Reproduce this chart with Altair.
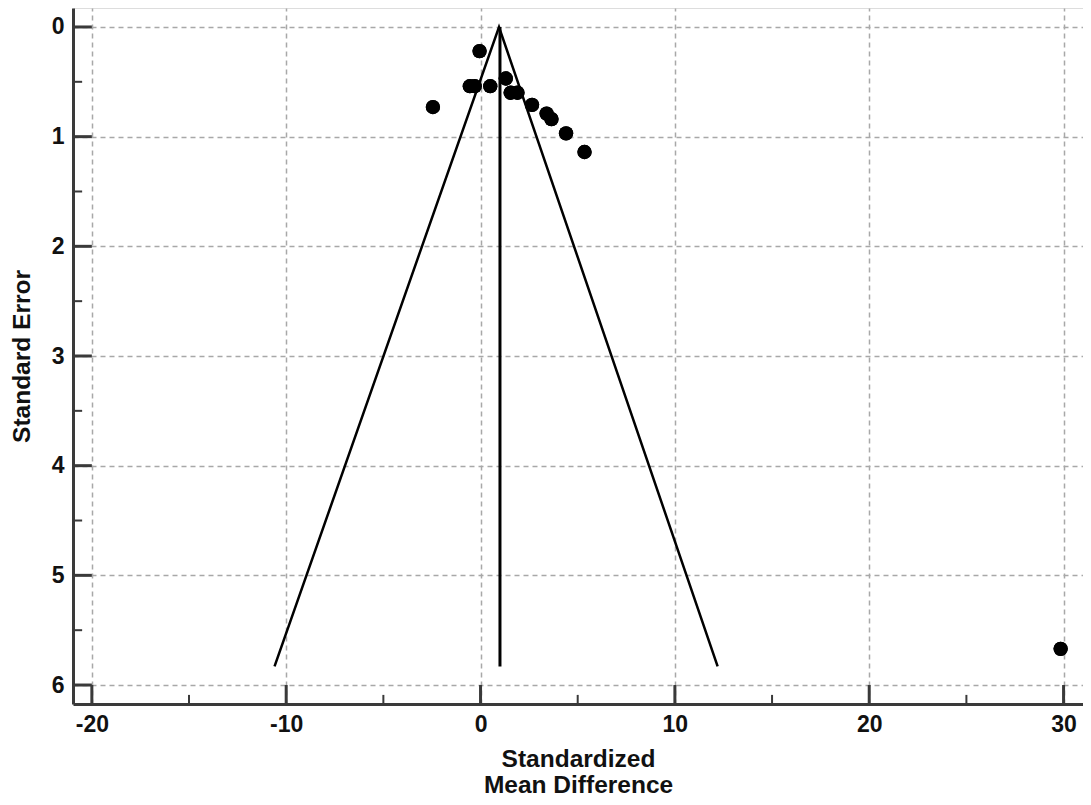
import altair as alt
import pandas as pd

# Study points (standardized mean difference, standard error)
smd = [-0.05, -0.55, -0.3, 0.5, 1.3, 1.55, 1.9, 2.65, 3.4, 3.65, 4.4, 5.35, -2.45, 29.85]
se = [0.22, 0.54, 0.54, 0.54, 0.47, 0.60, 0.60, 0.71, 0.79, 0.84, 0.97, 1.14, 0.73, 5.67]

# Funnel (pseudo 95% limits) and pooled estimate
funnel_x = [-10.6, 0.95, 12.2]
funnel_y = [5.83, 0.0, 5.83]
pooled_x = [1.0, 1.0]
pooled_y = [0.0, 5.83]

x_ticks = [-20, -10, 0, 10, 20, 30]
x_minor = [-15, -5, 5, 15, 25]
y_ticks = [0, 1, 2, 3, 4, 5, 6]
y_minor = [0.5, 1.5, 2.5, 3.5, 4.5, 5.5]

x_dom = [-20.97, 31.0]
y_dom = [-0.173, 6.173]

FONT = "Liberation Sans"
TXT = "#111111"
AX = "#3a3a3a"

pts = pd.DataFrame({"x": smd, "y": se})
fun = pd.DataFrame({"x": funnel_x, "y": funnel_y, "o": list(range(len(funnel_x)))})
pool = pd.DataFrame({"x": pooled_x[:1], "y": pooled_y[:1], "y2": pooled_y[1:]})

xs = alt.Scale(domain=x_dom, nice=False, zero=False)
ys = alt.Scale(domain=y_dom, nice=False, zero=False, reverse=True)

x_axis = alt.Axis(values=x_ticks, grid=True, gridDash=[5, 4], gridColor="#a8a8a8", gridWidth=1.5,
                  ticks=False, domainColor=AX, domainWidth=3, labelFont=FONT, labelFontSize=23,
                  labelFontWeight="bold", labelColor=TXT, labelPadding=9,
                  labelExpr="'' + datum.value",
                  title=["Standardized", "Mean Difference"], titleFont=FONT, titleFontSize=24.5,
                  titleFontWeight="bold", titleColor=TXT, titlePadding=11, titleLineHeight=26)
y_axis = alt.Axis(values=y_ticks, grid=True, gridDash=[5, 4], gridColor="#a8a8a8", gridWidth=1.5,
                  ticks=False, domainColor=AX, domainWidth=3, labelFont=FONT, labelFontSize=23,
                  labelFontWeight="bold", labelColor=TXT, labelPadding=9,
                  labelExpr="'' + datum.value",
                  title="Standard Error", titleFont=FONT, titleFontSize=24.5,
                  titleFontWeight="bold", titleColor=TXT, titlePadding=17)

base_pts = alt.Chart(pts).mark_point(filled=True, shape="circle", size=205, color="black", opacity=1).encode(
    x=alt.X("x:Q", scale=xs, axis=x_axis),
    y=alt.Y("y:Q", scale=ys, axis=y_axis),
)

funnel = alt.Chart(fun).mark_line(color="black", strokeWidth=2.5).encode(
    x=alt.X("x:Q", scale=xs), y=alt.Y("y:Q", scale=ys), order="o:Q")

pooled = alt.Chart(pool).mark_rule(color="black", strokeWidth=3).encode(
    x=alt.X("x:Q", scale=xs), y=alt.Y("y:Q", scale=ys), y2="y2:Q")

# inward ticks
ymaj = pd.DataFrame({"v": y_ticks, "a": x_dom[0], "b": -20.0})
ymin = pd.DataFrame({"v": y_minor, "a": x_dom[0], "b": -20.5})
xmaj = pd.DataFrame({"v": x_ticks, "a": y_dom[1], "b": 6.0})
xmin = pd.DataFrame({"v": x_minor, "a": y_dom[1], "b": 6.09})

def yt(df, w):
    return alt.Chart(df).mark_rule(color=AX, strokeWidth=w).encode(
        y=alt.Y("v:Q", scale=ys), x=alt.X("a:Q", scale=xs), x2="b:Q")

def xt(df, w):
    return alt.Chart(df).mark_rule(color=AX, strokeWidth=w).encode(
        x=alt.X("v:Q", scale=xs), y=alt.Y("a:Q", scale=ys), y2="b:Q")

chart = alt.layer(
    base_pts, yt(ymaj, 3), yt(ymin, 2), xt(xmaj, 3), xt(xmin, 2), funnel, pooled, base_pts
).properties(
    width=1010, height=696,
    autosize=alt.AutoSizeParams(type="none"),
    padding={"left": 65, "top": 0, "right": 0, "bottom": 93},
).configure_view(stroke=None).configure(background="white")

chart.save("out.html", embed_options={"renderer": "svg", "actions": False})
